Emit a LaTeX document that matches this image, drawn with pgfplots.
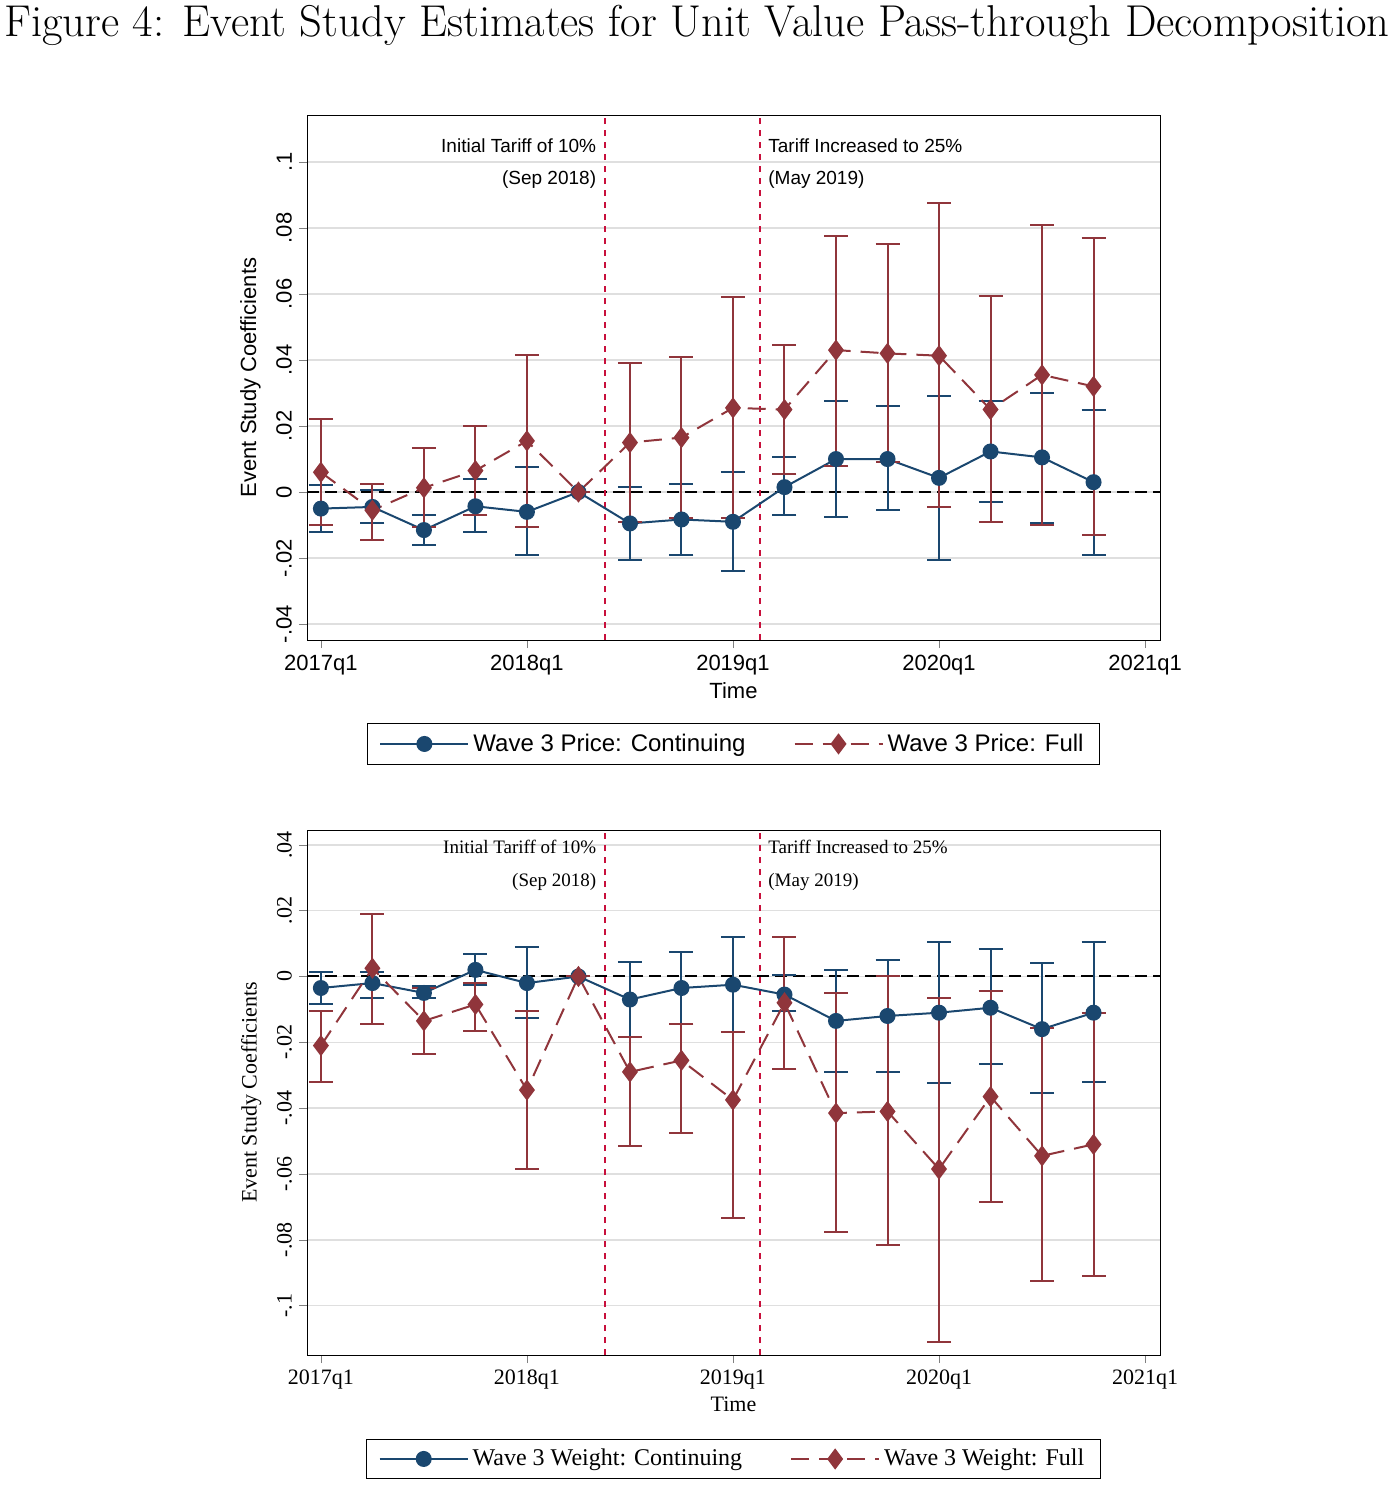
\documentclass[border=0pt]{standalone}
\usepackage{fontspec}
\usepackage{pgfplots}
\usepackage{pgfplotstable}
\pgfplotsset{compat=1.18}
\newfontfamily\sansf{Liberation Sans}
\newfontfamily\serf{Liberation Serif}
\definecolor{snavy}{RGB}{26,71,111}
\definecolor{smaroon}{RGB}{144,53,59}
\definecolor{vred}{RGB}{200,16,60}
\pgfplotstableread{
x y lo hi
0 -0.005 -0.012 0.002
1 -0.0045 -0.0095 0.0005
2 -0.0115 -0.016 -0.007
3 -0.0043 -0.012 0.004
4 -0.006 -0.019 0.0075
5 0 0 0
6 -0.0095 -0.0205 0.0015
7 -0.0083 -0.019 0.0025
8 -0.009 -0.024 0.006
9 0.0015 -0.007 0.0105
10 0.010 -0.0075 0.0275
11 0.010 -0.0055 0.026
12 0.0043 -0.0205 0.029
13 0.0123 -0.003 0.0275
14 0.0105 -0.0095 0.030
15 0.003 -0.019 0.025
}\topc
\pgfplotstableread{
x y lo hi
0 0.006 -0.010 0.022
1 -0.0055 -0.0145 0.0025
2 0.0013 -0.0105 0.0135
3 0.0065 -0.007 0.020
4 0.0155 -0.0105 0.0415
5 0 0 0
6 0.015 -0.009 0.039
7 0.0165 -0.008 0.041
8 0.0255 -0.008 0.059
9 0.025 0.0055 0.0445
10 0.043 0.008 0.0775
11 0.042 0.009 0.075
12 0.0413 -0.0045 0.0875
13 0.025 -0.009 0.0595
14 0.0355 -0.010 0.081
15 0.032 -0.013 0.077
}\topf
\pgfplotstableread{
x y lo hi
0 -0.0035 -0.0085 0.0015
1 -0.002 -0.0065 0.0015
2 -0.005 -0.0065 -0.003
3 0.002 -0.0025 0.0068
4 -0.002 -0.0125 0.009
5 0 0 0
6 -0.007 -0.0185 0.0045
7 -0.0035 -0.0145 0.0075
8 -0.0025 -0.017 0.012
9 -0.0055 -0.0105 0.0005
10 -0.0135 -0.029 0.002
11 -0.012 -0.029 0.005
12 -0.011 -0.0325 0.0105
13 -0.0095 -0.0265 0.0085
14 -0.016 -0.0355 0.004
15 -0.011 -0.032 0.0105
}\botc
\pgfplotstableread{
x y lo hi
0 -0.021 -0.032 -0.0105
1 0.0025 -0.0145 0.019
2 -0.0135 -0.0235 -0.0035
3 -0.0085 -0.0165 -0.002
4 -0.0345 -0.0585 -0.0105
5 0 0 0
6 -0.029 -0.0515 -0.0185
7 -0.0255 -0.0475 -0.0145
8 -0.0375 -0.0735 -0.017
9 -0.008 -0.028 0.012
10 -0.0415 -0.0775 -0.005
11 -0.041 -0.0815 0.000
12 -0.0585 -0.111 -0.0065
13 -0.0365 -0.0685 -0.0045
14 -0.0545 -0.0925 -0.0155
15 -0.051 -0.091 -0.011
}\botf
\pgfplotsset{
  panel/.style={
    scale only axis, width=426.5pt, height=262.5pt,
    xmin=-0.27, xmax=16.29,
    xtick={0,4,8,12,16},
    xticklabels={2017q1,2018q1,2019q1,2020q1,2021q1},
    axis x line*=box, axis y line*=box,
    xtick pos=bottom, ytick pos=left, tick align=outside,
    major tick length=4pt,
    ymajorgrids, grid style={gray!25, line width=0.8pt},
    yticklabel style={rotate=90, anchor=south},
    xlabel={Time}, ylabel={Event Study Coefficients},
    xlabel style={yshift=3pt},
    ylabel style={yshift=1pt},
    clip=false,
    legend columns=2,
    legend cell align=left,
    legend image code/.code={\draw[mark repeat=2,mark phase=2] plot coordinates {(0pt,0pt)(22pt,0pt)(44pt,0pt)};},
    legend style={at={(0.5,-0.198)}, anchor=center, draw=black, line width=0.6pt,
      inner xsep=6pt, inner ysep=3pt,
      /tikz/every even column/.append style={column sep=22pt}},
  },
  cplot/.style={color=snavy, line width=1pt, mark=*, mark size=3.5pt, mark options={fill=snavy,solid},
    error bars/.cd, y dir=both, y explicit, error mark=|, error mark options={mark size=6pt, line width=1pt, color=snavy}, error bar style={line width=1pt, color=snavy}},
  fplot/.style={color=smaroon, line width=1pt, dashed, dash pattern=on 9pt off 5pt, mark=diamond*, mark size=4.5pt, mark options={fill=smaroon,solid},
    error bars/.cd, y dir=both, y explicit, error mark=|, error mark options={mark size=6pt, line width=1pt, color=smaroon, solid}, error bar style={line width=1pt, color=smaroon, solid}},
}
\begin{document}
\begin{tikzpicture}
\useasboundingbox (-153.5pt,-428pt) rectangle (543.5pt,320pt);
\node[anchor=center] at (195pt,307.5pt) {\fontsize{22.3}{26}\selectfont Figure 4: Event Study Estimates for Unit Value Pass-through Decomposition};
\begin{axis}[panel, font=\sansf\fontsize{11}{13}\selectfont,
  ymin=-0.0448, ymax=0.1142,
  ytick={-0.04,-0.02,0,0.02,0.04,0.06,0.08,0.1},
  yticklabels={-.04,-.02,0,.02,.04,.06,.08,.1},
  legend style={font=\sansf\fontsize{12}{14}\selectfont}]
\addplot[black, dashed, line width=1pt, dash pattern=on 6pt off 3pt, forget plot] coordinates {(-0.27,0) (16.29,0)};
\addplot[vred, dashed, line width=1pt, forget plot] coordinates {(5.51,-0.0448) (5.51,0.1142)};
\addplot[vred, dashed, line width=1pt, forget plot] coordinates {(8.52,-0.0448) (8.52,0.1142)};
\addplot[cplot] table[x=x,y=y, y error plus expr=\thisrow{hi}-\thisrow{y}, y error minus expr=\thisrow{y}-\thisrow{lo}] {\topc};
\addplot[fplot] table[x=x,y=y, y error plus expr=\thisrow{hi}-\thisrow{y}, y error minus expr=\thisrow{y}-\thisrow{lo}] {\topf};
\legend{Wave 3 Price: Continuing, Wave 3 Price: Full}
\node[anchor=east, font=\sansf\fontsize{9.5}{11}\selectfont] at (axis cs:5.48,0.1048) {Initial Tariff of 10\%};
\node[anchor=east, font=\sansf\fontsize{9.5}{11}\selectfont] at (axis cs:5.48,0.0945) {(Sep 2018)};
\node[anchor=west, font=\sansf\fontsize{9.5}{11}\selectfont] at (axis cs:8.55,0.1048) {Tariff Increased to 25\%};
\node[anchor=west, font=\sansf\fontsize{9.5}{11}\selectfont] at (axis cs:8.55,0.0945) {(May 2019)};
\end{axis}
\begin{axis}[panel, yshift=-357.5pt, font=\serf\fontsize{11}{13}\selectfont,
  ymin=-0.115, ymax=0.0445,
  ytick={-0.1,-0.08,-0.06,-0.04,-0.02,0,0.02,0.04},
  yticklabels={-.1,-.08,-.06,-.04,-.02,0,.02,.04},
  legend style={font=\serf\fontsize{12}{14}\selectfont}]
\addplot[black, dashed, line width=1pt, dash pattern=on 6pt off 3pt, forget plot] coordinates {(-0.27,0) (16.29,0)};
\addplot[vred, dashed, line width=1pt, forget plot] coordinates {(5.51,-0.115) (5.51,0.0445)};
\addplot[vred, dashed, line width=1pt, forget plot] coordinates {(8.52,-0.115) (8.52,0.0445)};
\addplot[cplot] table[x=x,y=y, y error plus expr=\thisrow{hi}-\thisrow{y}, y error minus expr=\thisrow{y}-\thisrow{lo}] {\botc};
\addplot[fplot] table[x=x,y=y, y error plus expr=\thisrow{hi}-\thisrow{y}, y error minus expr=\thisrow{y}-\thisrow{lo}] {\botf};
\legend{Wave 3 Weight: Continuing, Wave 3 Weight: Full}
\node[anchor=east, font=\serf\fontsize{9.5}{11}\selectfont] at (axis cs:5.48,0.0394) {Initial Tariff of 10\%};
\node[anchor=east, font=\serf\fontsize{9.5}{11}\selectfont] at (axis cs:5.48,0.0288) {(Sep 2018)};
\node[anchor=west, font=\serf\fontsize{9.5}{11}\selectfont] at (axis cs:8.55,0.0394) {Tariff Increased to 25\%};
\node[anchor=west, font=\serf\fontsize{9.5}{11}\selectfont] at (axis cs:8.55,0.0288) {(May 2019)};
\end{axis}
\end{tikzpicture}
\end{document}
